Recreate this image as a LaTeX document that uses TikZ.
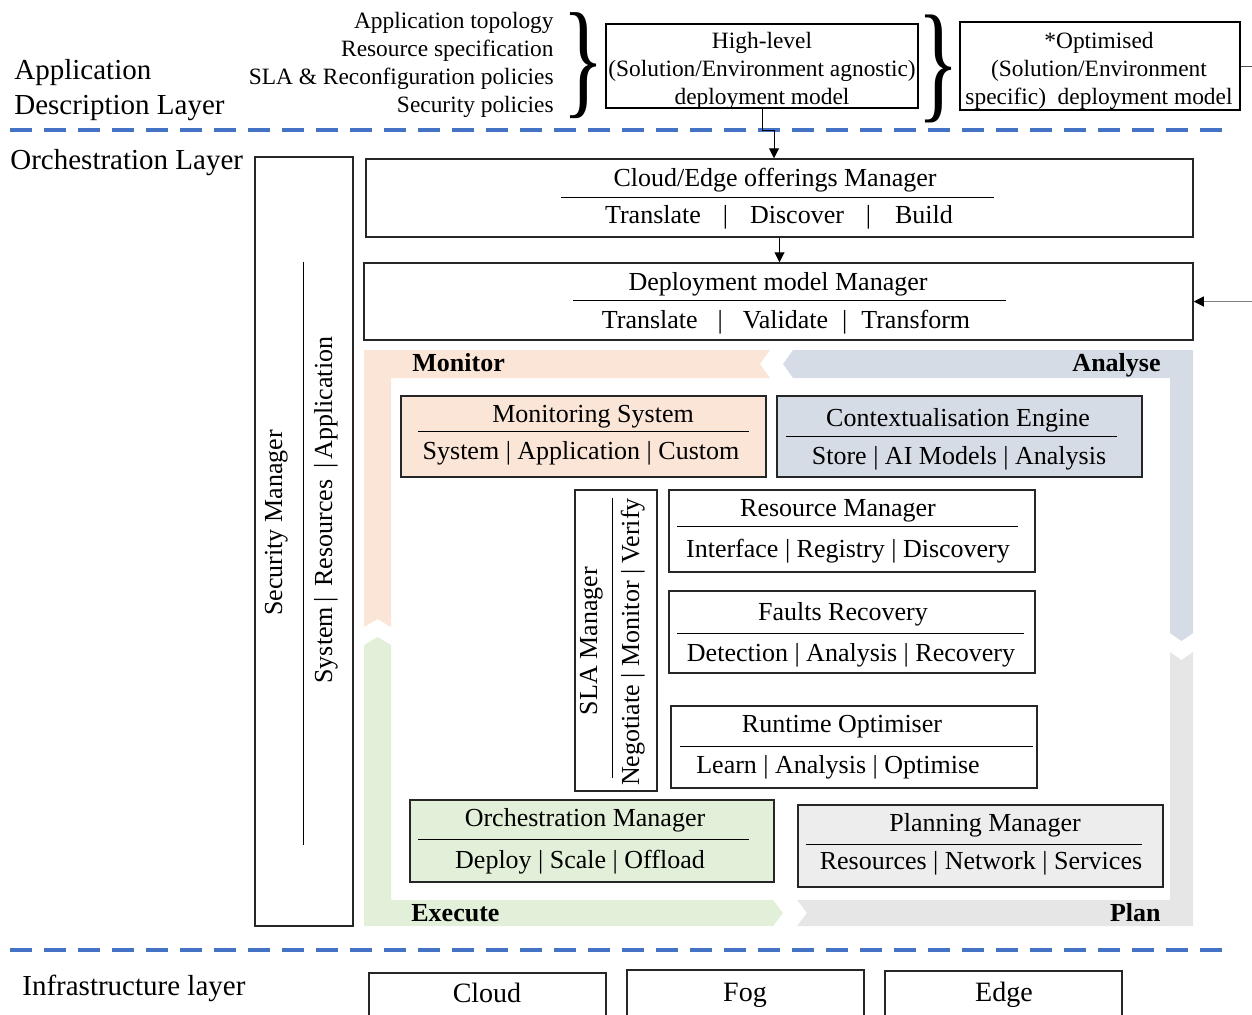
\documentclass[tikz,border=0pt]{standalone}
\usepackage{fontspec}
\setmainfont{Liberation Serif}
\usetikzlibrary{arrows.meta,fit}
\definecolor{peach}{HTML}{FBE5D6}
\definecolor{bluegr}{HTML}{D6DCE5}
\definecolor{greenl}{HTML}{E2F0D9}
\definecolor{greyl}{HTML}{E6E6E6}
\definecolor{greybox}{HTML}{EDEDED}
\definecolor{dashblue}{HTML}{4472C4}
\begin{document}
\begin{tikzpicture}[x=0.5pt,y=-0.5pt,
  box/.style={draw=black!85, line width=0.75pt, inner sep=0pt},
  main/.style={font=\fontsize{13}{15.6}\selectfont, inner sep=0pt, text height=0.72em, text depth=0.22em, yshift=-1.5pt},
  vmain/.style={font=\fontsize{13}{15.6}\selectfont, inner sep=0pt, text height=0.72em, text depth=0.22em},
  sepl/.style={line width=0.5pt},
  layer/.style={font=\fontsize{14.5}{17.5}\selectfont, inner sep=0pt, align=left, yshift=-1.5pt},
  small/.style={font=\fontsize{11.7}{14}\selectfont, inner sep=0pt, text height=0.72em, text depth=0.22em, yshift=-1.5pt},
  phase/.style={font=\fontsize{13}{15}\selectfont\bfseries, inner sep=0pt, text height=0.72em, text depth=0.22em, yshift=-1.5pt},
  infra/.style={font=\fontsize{14}{16}\selectfont, inner sep=0pt, text height=0.72em, text depth=0.22em, yshift=-1pt},
  arr/.style={-{Triangle[length=5pt,width=5pt]}, line width=0.5pt},
  dashline/.style={dashblue, line width=2pt, dash pattern=on 11pt off 6pt}]
\useasboundingbox (0,0) rectangle (1252,1014);
\clip (0,0) rectangle (1252,1014);

% ---------- MAPE bands ----------
\fill[peach] (364,350) -- (770,350) -- (760,364) -- (770,378) -- (391,378) -- (391,627) -- (377.5,619) -- (364,627) -- cycle;
\fill[bluegr] (783,364) -- (793,350) -- (1193,350) -- (1193,633) -- (1181.5,641) -- (1170,633) -- (1170,378) -- (793,378) -- cycle;
\fill[greenl] (364,645) -- (377.5,637) -- (391,645) -- (391,900) -- (773,900) -- (783,913) -- (773,926) -- (364,926) -- cycle;
\fill[greyl] (797,900) -- (1170,900) -- (1170,652) -- (1181.5,660) -- (1193,652) -- (1193,926) -- (797,926) -- (807,913) -- cycle;

\node[phase, anchor=west] (pMon) at (412,363) {Monitor};
\node[phase, anchor=east] (pAna) at (1161,363) {Analyse};
\node[phase, anchor=west] (pExe) at (411,913) {Execute};
\node[phase, anchor=east] (pPla) at (1161,913) {Plan};

% ---------- Application description layer ----------
\node[layer, anchor=west] (adl) at (14,87) {Application\\Description Layer};
\node[small, anchor=east] (t1) at (554,20) {Application topology};
\node[small, anchor=east] (t2) at (554,48) {Resource specification};
\node[small, anchor=east] (t3) at (554,76) {SLA \& Reconfiguration policies};
\node[small, anchor=east] (t4) at (554,104) {Security policies};
\node[inner sep=0pt] (br1) at (583,66) {\resizebox*{21pt}{53pt}{\}}};

\node[box, draw=black, fit={(606,24) (918,108)}] (hl) {};
\node[font=\fontsize{11.7}{14}\selectfont, align=center, inner sep=0pt, yshift=-1.5pt] (hlT) at (762,68) {High-level\\(Solution/Environment agnostic)\\deployment model};
\node[inner sep=0pt] (br2) at (938,69) {\resizebox*{21pt}{54pt}{\}}};

\node[box, draw=black, fit={(960,22) (1240,110)}] (opt) {};
\node[font=\fontsize{11.7}{14}\selectfont, align=center, inner sep=0pt, yshift=-1.5pt] (optT) at (1099,68) {*Optimised\\(Solution/Environment\\specific)\ \ deployment model};

\draw[dashline] (10,130) -- (1228,130);

% ---------- Orchestration layer ----------
\node[layer, anchor=west] (orl) at (10,160) {Orchestration Layer};

\node[box, fit={(255,157) (353,926)}] (sec) {};
\node[vmain, rotate=90] (secT) at (277,523) {Security Manager};
\draw[sepl] (303,262) -- (303,845);
\node[vmain, rotate=90] (secS) at (327,510) {System\,|\ \,Resources\ \,|\,Application};

\node[box, fit={(366,159) (1193,237)}] (cem) {};
\node[main] (cemT) at (775,178) {Cloud/Edge offerings Manager};
\draw[sepl] (561,197) -- (994,197);
\node[main] (cemS) at (779,215) {Translate\hspace{11pt}|\hspace{11pt}Discover\hspace{11pt}|\hspace{12pt}Build};

\node[box, fit={(364,263) (1193,340)}] (dmm) {};
\node[main] (dmmT) at (778,282) {Deployment model Manager};
\draw[sepl] (573,300) -- (1006,300);
\node[main] (dmmS) at (786,320) {Translate\hspace{10pt}|\hspace{10pt}Validate\hspace{7pt}|\hspace{7pt}Transform};

\coordinate (tA) at (774,130);
\draw[arr] (hl.south) |- (tA) -- (tA |- cem.north);
\draw[arr] (cem.south) -- (cem.south |- dmm.north);
\coordinate (rOut) at (1262,66);
\draw[line width=0.5pt, black!70] (opt.east) -- (rOut);
\coordinate (rIn) at (1262,301.5);
\draw[-{Triangle[length=5pt,width=5pt,color=black]}, line width=0.5pt, black!50] (rIn) -- (dmm.east);

% ---------- inner boxes ----------
\node[box, fill=peach, fit={(401,396) (766,477)}] (mon) {};
\node[main] (monT) at (593,414) {Monitoring System};
\draw[sepl] (418,431) -- (749,431);
\node[main] (monS) at (581,451) {System | Application | Custom};

\node[box, fill=bluegr, fit={(777,396) (1142,477)}] (ce) {};
\node[main] (ceT) at (958,418) {Contextualisation Engine};
\draw[sepl] (786,436) -- (1117,436);
\node[main] (ceS) at (959,456) {Store | AI Models | Analysis};

\node[box, fit={(575,490) (657,791)}] (sla) {};
\node[vmain, rotate=90] (slaT) at (592,641) {SLA Manager};
\draw[sepl] (612,498) -- (612,778);
\node[vmain, rotate=90] (slaS) at (634,642) {Negotiate | Monitor | Verify};

\node[box, fit={(669,490) (1035,572)}] (rm) {};
\node[main] (rmT) at (838,508) {Resource Manager};
\draw[sepl] (677,526) -- (1018,526);
\node[main] (rmS) at (848,549) {Interface | Registry | Discovery};

\node[box, fit={(669,591) (1035,673)}] (fr) {};
\node[main] (frT) at (843,612) {Faults Recovery};
\draw[sepl] (677,633) -- (1024,633);
\node[main] (frS) at (851,653) {Detection | Analysis | Recovery};

\node[box, fit={(671,706) (1037,788)}] (ro) {};
\node[main] (roT) at (842,724) {Runtime Optimiser};
\draw[sepl] (680,746) -- (1033,746);
\node[main] (roS) at (838,765) {Learn | Analysis | Optimise};

\node[box, fill=greenl, fit={(410,800) (774,882)}] (om) {};
\node[main] (omT) at (585,818) {Orchestration Manager};
\draw[sepl] (418,839) -- (749,839);
\node[main] (omS) at (580,860) {Deploy | Scale | Offload};

\node[box, fill=greybox, fit={(798,805) (1163,887)}] (pm) {};
\node[main] (pmT) at (985,823) {Planning Manager};
\draw[sepl] (806,844) -- (1142,844);
\node[main] (pmS) at (981,861) {Resources | Network | Services};

% ---------- Infrastructure layer ----------
\draw[dashline] (10,950) -- (1228,950);
\node[layer, anchor=west] (inl) at (22,985) {Infrastructure layer};
\node[box, fit={(369,973) (606,1030)}] (cloud) {};
\node[infra] (cloudT) at (487,995) {Cloud};
\node[box, fit={(627,970) (864,1030)}] (fog) {};
\node[infra] (fogT) at (745,994) {Fog};
\node[box, fit={(885,971) (1122,1030)}] (edge) {};
\node[infra] (edgeT) at (1004,994) {Edge};
\end{tikzpicture}
\end{document}
